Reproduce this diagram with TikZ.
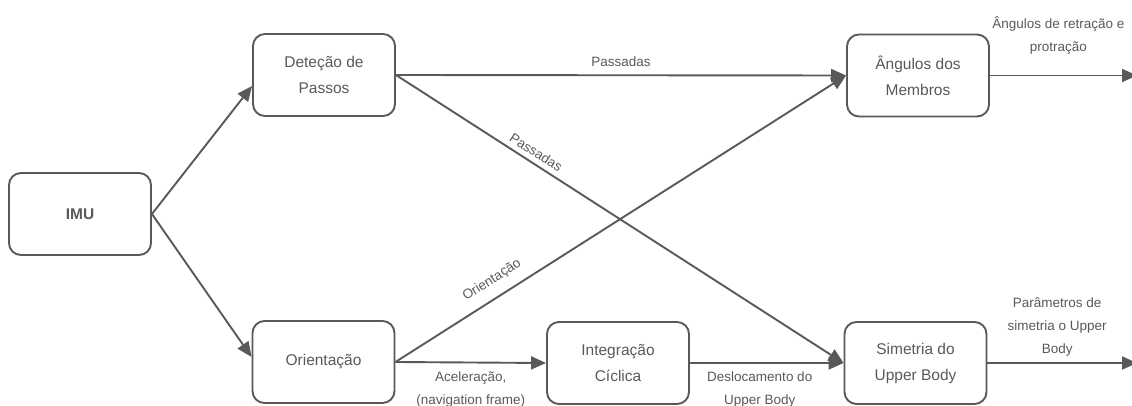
\documentclass[tikz,border=0pt]{standalone}
\usepackage{fontspec}
\setmainfont{Liberation Sans}
\usetikzlibrary{arrows.meta,calc}
\definecolor{ln}{HTML}{595959}
\definecolor{tx}{HTML}{595959}
\begin{document}
\begin{tikzpicture}[x=1pt,y=-1pt,
 box/.style={draw=ln,line width=1.9pt,rounded corners=12pt,minimum width=142pt,minimum height=82pt,inner sep=0pt,align=center,text=tx,font=\fontsize{15.5}{26}\selectfont},
 conn/.style={draw=ln,line width=1.9pt,-{Triangle[length=15pt,width=13pt]}},
 lab/.style={text=tx,font=\fontsize{13.5}{23}\selectfont,align=center,inner sep=0pt},
 slab/.style={text=tx,font=\fontsize{13.5}{16}\selectfont,inner sep=0pt}]
\useasboundingbox (0,0) rectangle (1132,406);
\node[box,font=\bfseries\fontsize{15.5}{26}\selectfont] (imu) at (80,214) {IMU};
\node[box] (det) at (324,75) {Deteção de\\Passos};
\node[box] (ang) at (918,75.5) {Ângulos dos\\Membros};
\node[box] (ori) at (323.5,362) {Orientação};
\node[box] (int) at (618,363) {Integração\\Cíclica};
\node[box] (sim) at (915.5,363) {Simetria do\\Upper Body};
\coordinate (o1) at (1137,75.5);
\coordinate (o2) at (1137,363);
\draw[conn] (imu.east) -- ($(det.west)+(0,11)$);
\draw[conn] (imu.east) -- ($(ori.west)+(0,-5)$);
\draw[conn] (det.east) -- node[slab,midway,yshift=14pt]{Passadas} (ang.west);
\draw[conn] (det.east) -- node[slab,sloped,pos=0.3,above=5pt]{Passadas} (sim.west);
\draw[conn] (ori.east) -- node[slab,sloped,pos=0.235,above=10pt]{Orientação} (ang.west);
\draw[conn] (ori.east) -- node[lab,midway,yshift=-27.5pt]{Aceleração,\\(navigation frame)} (int.west);
\draw[conn] (int.east) -- node[lab,midway,yshift=-27pt,xshift=-7pt]{Deslocamento do\\Upper Body} (sim.west);
\draw[conn] (ang.east) -- node[lab,midway,yshift=40pt,xshift=-5pt]{Ângulos de retração e\\protração} (o1);
\draw[conn] (sim.east) -- node[lab,midway,yshift=36pt,xshift=-5pt]{Parâmetros de\\simetria o Upper\\Body} (o2);
\end{tikzpicture}
\end{document}
